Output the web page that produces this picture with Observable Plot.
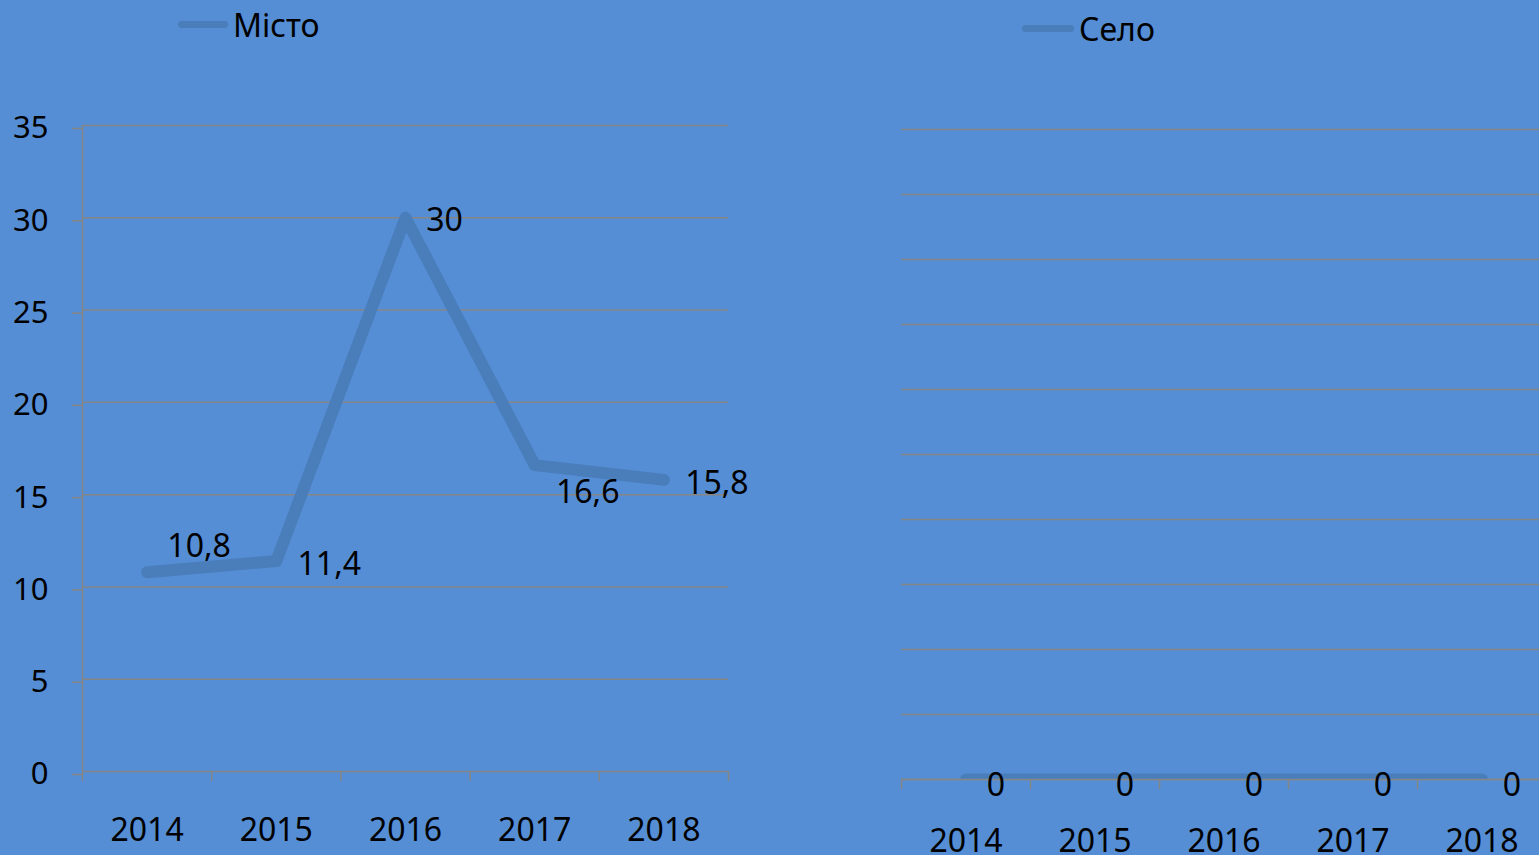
<!DOCTYPE html>
<html>
<head>
<meta charset="utf-8">
<script src="https://cdn.jsdelivr.net/npm/d3@7"></script>
<script src="https://cdn.jsdelivr.net/npm/@observablehq/plot@0.6"></script>
<style>
  html, body { margin: 0; padding: 0; width: 1539px; height: 855px; overflow: hidden; background: #558ED5; font-family: "Noto Sans", sans-serif; }
  .panel { position: absolute; top: 0; }
  .panel svg { max-width: none !important; }
  .legend { position: absolute; display: flex; align-items: center; font-size: 32px; color: #000; height: 40px; }
  .legend .sw { display: inline-block; width: 50px; height: 7px; border-radius: 4px; background: #4A7EBB; margin-right: 5px; }
</style>
</head>
<body>
<div class="legend" id="legL" style="left:178px; top:4px;"><span class="sw"></span><span id="nameL"></span></div>
<div class="legend" id="legR" style="left:1022px; top:8px;"><span class="sw" style="width:52px"></span><span id="nameR"></span></div>
<div class="panel" id="left" style="left:0px; width:770px;"></div>
<div class="panel" id="right" style="left:880px; width:666px;"></div>
<script>
// ---- data ----
const years = [2014, 2015, 2016, 2017, 2018];
const cityValues = [10.8, 11.4, 30, 16.6, 15.8];
const villageValues = [0, 0, 0, 0, 0];
const cityYTicks = [0, 5, 10, 15, 20, 25, 30, 35];
const villageYTicks = [0, 0.1, 0.2, 0.3, 0.4, 0.5, 0.6, 0.7, 0.8, 0.9, 1];
const seriesNames = ["Місто", "Село"];
// label offsets (style) per point
const cityLabelOffsets = [[52, -25], [53, 4], [39, 3], [53, 28], [53, 4]];
const villageLabelOffset = [30, 6];

document.getElementById("nameL").textContent = seriesNames[0];
document.getElementById("nameR").textContent = seriesNames[1];

const lineColor = "#4A7EBB";
const gridColor = "#868686";
const fmt = v => String(v).replace(".", ",");

const cityData = years.map((y, i) => ({year: y, value: cityValues[i]}));
const villageData = years.map((y, i) => ({year: y, value: villageValues[i]}));
const bounds = years.map(y => y - 0.5).concat([years[years.length - 1] + 0.5]);
const xDomain = [bounds[0], bounds[bounds.length - 1]];

const left = Plot.plot({
  width: 770, height: 855,
  marginLeft: 82, marginRight: 42, marginTop: 125, marginBottom: 84,
  style: {background: "transparent", fontFamily: "Noto Sans", color: "#000", overflow: "visible", maxWidth: "none"},
  x: {domain: xDomain, label: null},
  y: {domain: [0, 35], label: null},
  marks: [
    Plot.gridY({ticks: cityYTicks, stroke: gridColor, strokeOpacity: 1, strokeWidth: 1.5}),
    Plot.axisY({ticks: cityYTicks, label: null, tickSize: 10, tickPadding: 24, fontSize: 31, stroke: gridColor, strokeOpacity: 1, strokeWidth: 1.5, dy: 3, tickFormat: d => String(d)}),
    Plot.ruleX([bounds[0]], {stroke: gridColor, strokeWidth: 1.5}),
    Plot.axisX({ticks: bounds, label: null, tickSize: 10, tickFormat: () => "", stroke: gridColor, strokeOpacity: 1, strokeWidth: 1.5}),
    Plot.axisX({ticks: years, label: null, tickSize: 0, tickPadding: 47, fontSize: 32, tickFormat: d => String(d)}),
    Plot.line(cityData, {x: "year", y: "value", stroke: lineColor, strokeWidth: 12, strokeLinecap: "round", strokeLinejoin: "round"}),
    ...cityData.map((d, i) => Plot.text([d], {x: "year", y: "value", text: d => fmt(d.value), fontSize: 32, fill: "#000", dx: cityLabelOffsets[i][0], dy: cityLabelOffsets[i][1]}))
  ]
});
document.getElementById("left").appendChild(left);

const right = Plot.plot({
  width: 666, height: 855,
  marginLeft: 21, marginRight: 0, marginTop: 129, marginBottom: 76,
  style: {background: "transparent", fontFamily: "Noto Sans", color: "#000", overflow: "visible", maxWidth: "none"},
  x: {domain: xDomain, label: null},
  y: {domain: [0, 1], axis: null, label: null},
  marks: [
    Plot.gridY({ticks: villageYTicks, stroke: gridColor, strokeOpacity: 1, strokeWidth: 1.5}),
    Plot.line(villageData, {x: "year", y: "value", stroke: lineColor, strokeWidth: 12, strokeLinecap: "round", strokeLinejoin: "round", clip: true}),
    Plot.axisX({ticks: bounds, label: null, tickSize: 10, tickFormat: () => "", stroke: gridColor, strokeOpacity: 1, strokeWidth: 1.5}),
    Plot.ruleY([0], {stroke: gridColor, strokeWidth: 1.5}),
    Plot.axisX({ticks: years, label: null, tickSize: 0, tickPadding: 50, fontSize: 32, tickFormat: d => String(d)}),
    Plot.text(villageData, {x: "year", y: "value", text: d => fmt(d.value), fontSize: 32, fill: "#000", dx: villageLabelOffset[0], dy: villageLabelOffset[1]})
  ]
});
document.getElementById("right").appendChild(right);
</script>
</body>
</html>
